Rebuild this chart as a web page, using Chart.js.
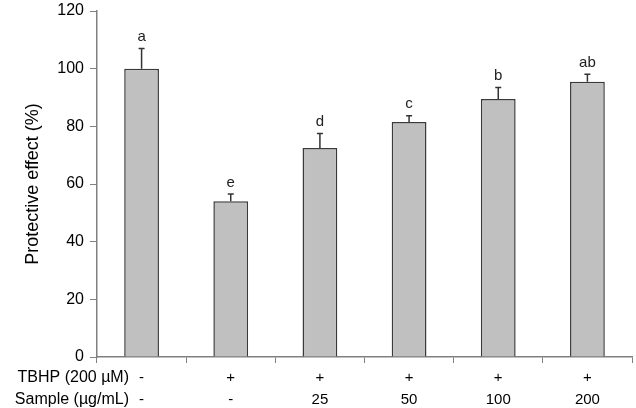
<!DOCTYPE html>
<html>
<head>
<meta charset="utf-8">
<script src="https://cdn.jsdelivr.net/npm/chart.js@4"></script>
<style>
  html, body { margin: 0; padding: 0; background: #fff; }
  #wrap { width: 636px; height: 408px; }
</style>
</head>
<body>
<div id="wrap"><canvas id="myChart"></canvas></div>
<script>
// data
const tbhp = ['-', '+', '+', '+', '+', '+'];
const sample = ['-', '-', '25', '50', '100', '200'];
const protective = [100, 54, 72.5, 81.5, 89.5, 95.5];
const errors = [7, 2.5, 5, 2.2, 4, 2.6];
const letters = ['a', 'e', 'd', 'c', 'b', 'ab'];
const rowNames = ['TBHP (200 µM)', 'Sample (µg/mL)'];
const yTicks = [0, 20, 40, 60, 80, 100, 120];

const FONT = 'Arial, "Liberation Sans", sans-serif';
const axisColor = '#808080';
const xTickLen = 6;
const xPad = 4;
const xLine = 22;

let labels = tbhp.map((t, i) => [t, sample[i]]);

// error bars, significance letters and row names
const extras = {
  id: 'extras',
  afterDatasetsDraw(chart) {
    const ctx = chart.ctx;
    const x = chart.scales.x;
    const y = chart.scales.y;
    ctx.save();
    ctx.strokeStyle = '#333';
    ctx.lineWidth = 1.5;
    ctx.fillStyle = '#222';
    ctx.font = '15px ' + FONT;
    ctx.textAlign = 'center';
    ctx.textBaseline = 'bottom';
    for (let i = 0; i < protective.length; i++) {
      let cx = x.getPixelForValue(i);
      let y0 = y.getPixelForValue(protective[i]);
      let y1 = y.getPixelForValue(protective[i] + errors[i]);
      ctx.beginPath();
      ctx.moveTo(cx, y0);
      ctx.lineTo(cx, y1);
      ctx.moveTo(cx - 3, y1);
      ctx.lineTo(cx + 3, y1);
      ctx.stroke();
      ctx.fillText(letters[i], cx, y1 - 4);
    }
    // row names of the two label lines
    ctx.fillStyle = '#000';
    ctx.font = '16px ' + FONT;
    ctx.textAlign = 'right';
    ctx.textBaseline = 'middle';
    for (let r = 0; r < rowNames.length; r++) {
      let ty = x.top + xTickLen + xPad + xLine * (r + 0.5);
      ctx.fillText(rowNames[r], 129, ty);
    }
    ctx.restore();
  }
};

new Chart(document.getElementById('myChart'), {
  type: 'bar',
  data: {
    labels: labels,
    datasets: [{
      data: protective,
      backgroundColor: '#c0c0c0',
      borderColor: '#3a3a3a',
      borderWidth: 1.5,
      barPercentage: 0.39,
      categoryPercentage: 1
    }]
  },
  options: {
    responsive: true,
    maintainAspectRatio: false,
    animation: false,
    layout: {
      padding: { top: 0, right: 4, left: 0, bottom: 0 }
    },
    plugins: {
      legend: { display: false },
      tooltip: { enabled: false }
    },
    scales: {
      x: {
        grid: {
          offset: true,
          drawOnChartArea: false,
          drawTicks: true,
          tickLength: xTickLen,
          color: axisColor
        },
        border: { color: axisColor, width: 1.5 },
        ticks: {
          color: '#000',
          padding: xPad,
          maxRotation: 0,
          autoSkip: false,
          font: { size: 15, family: FONT, lineHeight: xLine / 15 }
        },
        afterFit(scale) { scale.height = 51; }
      },
      y: {
        min: 0,
        max: 120,
        afterBuildTicks(scale) {
          scale.ticks = yTicks.map(v => ({ value: v }));
        },
        grid: {
          drawOnChartArea: false,
          drawTicks: true,
          tickLength: 7,
          color: axisColor
        },
        border: { color: axisColor, width: 1.5 },
        ticks: {
          color: '#000',
          padding: 6,
          font: { size: 16, family: FONT }
        },
        title: {
          display: true,
          text: 'Protective effect (%)',
          color: '#000',
          font: { size: 18, family: FONT },
          padding: { top: 22, bottom: 0 }
        },
        afterFit(scale) {
          scale.width = 97;
          scale.paddingTop = 11;
          scale.paddingBottom = 0;
        }
      }
    }
  },
  plugins: [extras]
});
</script>
</body>
</html>
